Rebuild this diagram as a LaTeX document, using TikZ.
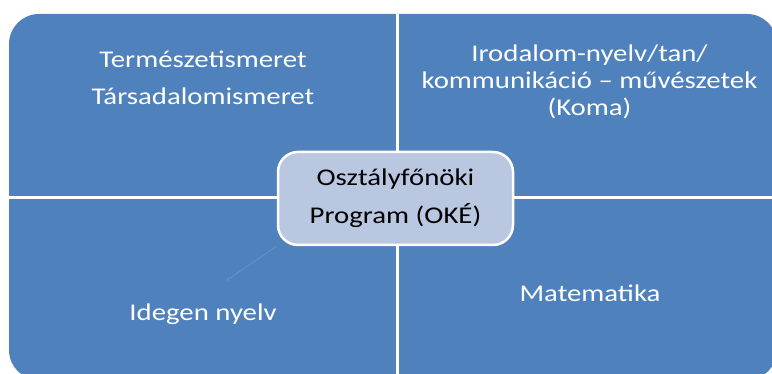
\documentclass[tikz,border=0pt]{standalone}
\usepackage{fontspec}
\setmainfont{Carlito}[FakeStretch=1.2]
\usetikzlibrary{positioning}
\definecolor{quadblue}{RGB}{79,129,189}
\definecolor{okefill}{RGB}{185,199,224}
\tikzset{
  quadrant/.style  = {fill=quadblue, rounded corners=30pt},
  divider/.style   = {draw=white, line width=3pt},
  quadtext/.style  = {
    text=white, align=center, inner sep=0pt,
    font=\fontsize{24}{37}\selectfont},
  centerbox/.style = {
    shape=rectangle, rounded corners=20pt,
    draw=white, line width=2.5pt, fill=okefill,
    minimum width=235pt, minimum height=93pt,
    align=center, text=black,
    font=\fontsize{24}{38}\selectfont},
  faint/.style     = {draw=quadblue!80!white, line width=0.5pt}
}

\begin{document}
\begin{tikzpicture}[x=1pt, y=1pt]
    \useasboundingbox (0,0) rectangle (772,374);
    \begin{scope}
    \clip (0,0) rectangle (772,374);
    \fill [quadrant] (9,-6) rectangle (777,360);
    \end{scope}
    % white cross between the four fields
    \coordinate (vtop) at (397.5,360);
    \coordinate (vbot) at (397.5,0);
    \coordinate (hleft) at (9,176.5);
    \coordinate (hright) at (772,176.5);
    \draw [divider] (vtop) -- (vbot);
    \draw [divider] (hleft) -- (hright);

    \node [quadtext, anchor=base] (science) at (203,269)
        {Természetismeret\\Társadalomismeret};
    \node [quadtext, anchor=base, font=\fontsize{24}{27}\selectfont] (lit) at (589.5,258)
        {Irodalom-nyelv/tan/\\kommunikáció -- művészetek\\(Koma)};
    \node [quadtext, anchor=base] (lang) at (203,53) {Idegen nyelv};
    \node [quadtext, anchor=base] (math) at (590,72) {Matematika};

    \node [centerbox] (oke) at (395.5,175.5)
        {Osztályfőnöki\\Program (OKÉ)};
    \coordinate (tip) at (227,94);
    \draw [faint, ->] (oke.south west) -- (tip);
\end{tikzpicture}
\end{document}
